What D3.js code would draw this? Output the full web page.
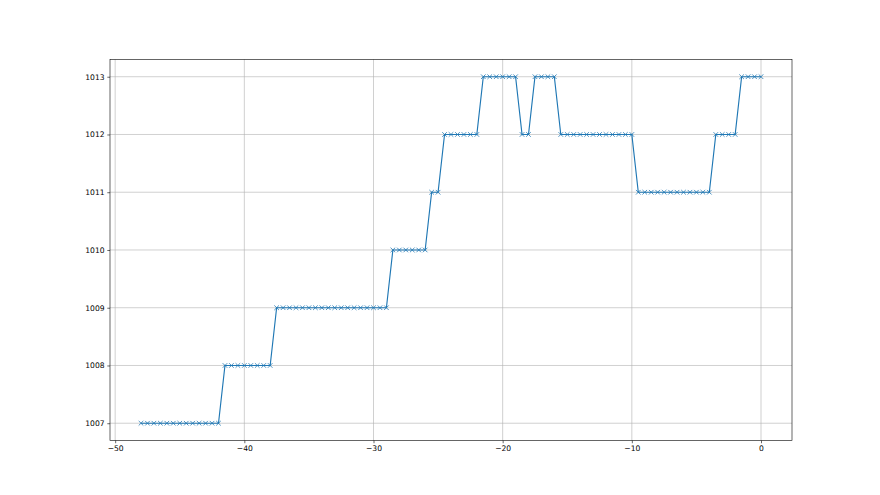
<!DOCTYPE html>
<html lang="en">
<head>
<meta charset="utf-8">
<title>Step line</title>
<script src="https://cdn.jsdelivr.net/npm/d3@7"></script>
<style>
  body { margin: 0; background: #fff; }
  .tick text { font-family: "DejaVu Sans", sans-serif; font-size: 7.6px; fill: #000; }
</style>
</head>
<body>
<div id="chart"></div>
<script>
// x runs from -48 to 0 in steps of 0.5
var xStart = -48, xStep = 0.5;
// pressure readings (one per x position)
var yValues = [
  1007,1007,1007,1007,1007,1007,1007,1007,1007,1007,1007,1007,1007,
  1008,1008,1008,1008,1008,1008,1008,1008,
  1009,1009,1009,1009,1009,1009,1009,1009,1009,1009,1009,1009,1009,1009,1009,1009,1009,1009,
  1010,1010,1010,1010,1010,1010,
  1011,1011,
  1012,1012,1012,1012,1012,1012,
  1013,1013,1013,1013,1013,1013,
  1012,1012,
  1013,1013,1013,1013,
  1012,1012,1012,1012,1012,1012,1012,1012,1012,1012,1012,1012,
  1011,1011,1011,1011,1011,1011,1011,1011,1011,1011,1011,1011,
  1012,1012,1012,1012,
  1013,1013,1013,1013
];
var xTicks = [-50, -40, -30, -20, -10, 0];
var yTicks = [1007, 1008, 1009, 1010, 1011, 1012, 1013];

var data = yValues.map(function(v, i) { return { x: xStart + i * xStep, y: v }; });

var W = 880, H = 495;
var margin = {top: 59.4, right: 88, bottom: 54.45, left: 110};
var width = W - margin.left - margin.right;
var height = H - margin.top - margin.bottom;

var svg = d3.select("#chart").append("svg")
    .attr("width", W)
    .attr("height", H);
var g = svg.append("g")
    .attr("transform", "translate(" + margin.left + "," + margin.top + ")");

// matplotlib-like 5% padding on each side
var xExt = d3.extent(data, function(d) { return d.x; });
var yExt = d3.extent(data, function(d) { return d.y; });
var xPad = (xExt[1] - xExt[0]) * 0.05, yPad = (yExt[1] - yExt[0]) * 0.05;

var x = d3.scaleLinear().domain([xExt[0] - xPad, xExt[1] + xPad]).range([0, width]);
var y = d3.scaleLinear().domain([yExt[0] - yPad, yExt[1] + yPad]).range([height, 0]);

// grid
g.append("g").selectAll("line").data(xTicks).enter().append("line")
    .attr("x1", function(d) { return x(d); }).attr("x2", function(d) { return x(d); })
    .attr("y1", 0).attr("y2", height)
    .attr("stroke", "#b0b0b0").attr("stroke-width", 0.6);
g.append("g").selectAll("line").data(yTicks).enter().append("line")
    .attr("y1", function(d) { return y(d); }).attr("y2", function(d) { return y(d); })
    .attr("x1", 0).attr("x2", width)
    .attr("stroke", "#b0b0b0").attr("stroke-width", 0.6);

// axes
var minus = function(d) { return String(d).replace("-", "\u2212"); };
var xAxis = g.append("g")
    .attr("transform", "translate(0," + height + ")")
    .call(d3.axisBottom(x).tickValues(xTicks).tickSize(2.7).tickPadding(2.7).tickFormat(minus));
var yAxis = g.append("g")
    .call(d3.axisLeft(y).tickValues(yTicks).tickSize(2.7).tickPadding(2.7).tickFormat(d3.format("d")));
[xAxis, yAxis].forEach(function(a) {
  a.select(".domain").remove();
  a.selectAll(".tick line").attr("stroke", "#000").attr("stroke-width", 0.6);
});

// frame
g.append("rect")
    .attr("width", width).attr("height", height)
    .attr("fill", "none").attr("stroke", "#000").attr("stroke-width", 0.6);

// line
var line = d3.line()
    .x(function(d) { return x(d.x); })
    .y(function(d) { return y(d.y); });
g.append("path")
    .datum(data)
    .attr("fill", "none")
    .attr("stroke", "#1f77b4")
    .attr("stroke-width", 1.15)
    .attr("d", line);

// x markers
var s = 2.3;
g.append("g").selectAll("path.mk").data(data).enter().append("path")
    .attr("class", "mk")
    .attr("d", function(d) {
      var cx = x(d.x), cy = y(d.y);
      return "M" + (cx - s) + "," + (cy - s) + "L" + (cx + s) + "," + (cy + s) +
             "M" + (cx - s) + "," + (cy + s) + "L" + (cx + s) + "," + (cy - s);
    })
    .attr("stroke", "#1f77b4")
    .attr("stroke-width", 0.8)
    .attr("fill", "none");
</script>
</body>
</html>
